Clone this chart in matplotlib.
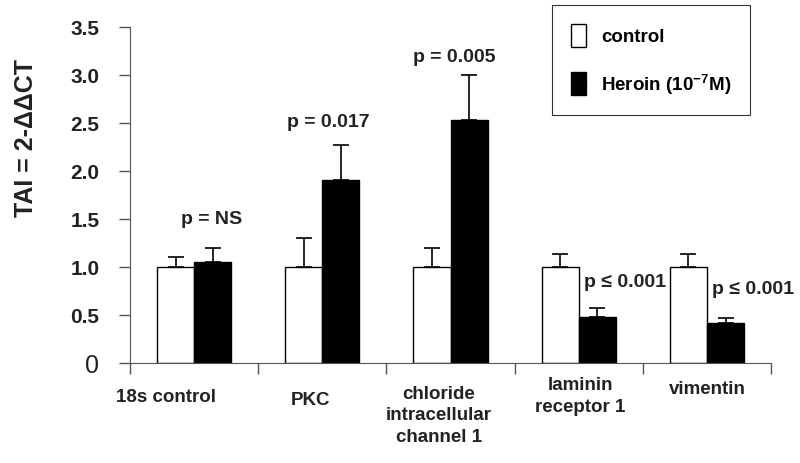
import numpy as np
import matplotlib
matplotlib.use("Agg")
import matplotlib.pyplot as plt
from matplotlib.patches import Patch
import matplotlib.transforms as mtransforms

plt.rcParams['font.family'] = ['Liberation Sans', 'DejaVu Sans']
plt.rcParams['mathtext.fontset'] = 'custom'
plt.rcParams['mathtext.bf'] = 'Liberation Sans:bold'
plt.rcParams['mathtext.rm'] = 'Liberation Sans'

# data
genes = ['18s control', 'PKC', 'chloride\nintracellular\nchannel 1', 'laminin\nreceptor 1', 'vimentin']
control = [1.0, 1.0, 1.0, 1.0, 1.0]
control_err = [0.10, 0.30, 0.20, 0.13, 0.13]
heroin = [1.05, 1.90, 2.53, 0.48, 0.41]
heroin_err = [0.15, 0.37, 0.47, 0.09, 0.06]
p_labels = ['p = NS', 'p = 0.017', 'p = 0.005', 'p \u2264 0.001', 'p \u2264 0.001']

# layout tweaks for the text (not data)
p_dx = [0.14, 0.05, 0.03, 0.36, 0.36]
p_y = [1.50, 2.52, 3.19, 0.85, 0.77]
lab_dx = [-0.22, -0.09, -0.09, 0.01, 0.0]
lab_top = [-0.075, -0.085, -0.065, -0.04, -0.05]

fig = plt.figure(figsize=(8, 4.64), dpi=100)
ax = fig.add_axes([0.1625, 0.216, 0.8013, 0.7237])

x = np.arange(len(genes)) + 0.5
w = 0.29
ax.bar(x - w/2, control, w, color='white', edgecolor='black', linewidth=1.0, zorder=2)
ax.bar(x + w/2, heroin, w, color='black', edgecolor='black', linewidth=1.0, zorder=2)
ax.errorbar(x - w/2, control, yerr=[np.zeros(5), control_err], fmt='none',
            ecolor='black', elinewidth=1.2, capsize=5.5, capthick=1.2, zorder=1)
ax.errorbar(x + w/2, heroin, yerr=[np.zeros(5), heroin_err], fmt='none',
            ecolor='black', elinewidth=1.2, capsize=5.5, capthick=1.2, zorder=1)

for i in range(len(genes)):
    ax.text(x[i] + p_dx[i], p_y[i], p_labels[i], ha='center', va='center',
            fontsize=14, fontweight='bold', color='#222222')

ax.set_xlim(0, 5)
ax.set_ylim(0, 3.5)
ax.spines['top'].set_visible(False)
ax.spines['right'].set_visible(False)
ax.spines['left'].set_color('#555555')
ax.spines['bottom'].set_color('#555555')

ax.set_yticks([0, 0.5, 1.0, 1.5, 2.0, 2.5, 3.0, 3.5])
ax.set_yticklabels(['0', '0.5', '1.0', '1.5', '2.0', '2.5', '3.0', '3.5'],
                   fontsize=15, fontweight='bold', color='#222222')
zero = ax.get_yticklabels()[0]
zero.set_fontweight('normal')
zero.set_fontsize(18)
ax.tick_params(axis='y', direction='out', length=8, width=1, color='#555555', pad=14)
ax.set_xticks(np.arange(0, 6))
ax.set_xticklabels([])
ax.tick_params(axis='x', direction='out', length=8, width=1, color='#555555')

trans = mtransforms.blended_transform_factory(ax.transData, ax.transAxes)
for i, g in enumerate(genes):
    ax.text(x[i] + lab_dx[i], lab_top[i], g, transform=trans, ha='center', va='top',
            fontsize=13.5, fontweight='bold', color='#222222', linespacing=1.35)

fig.text(26/800, 1 - 138/464, 'TAI = 2-\u0394\u0394CT', rotation=90, ha='center', va='center',
         fontsize=18, fontweight='bold', color='#222222')

handles = [Patch(facecolor='white', edgecolor='black'),
           Patch(facecolor='black', edgecolor='black')]
leg = fig.legend(handles, ['control', 'Heroin (10$^{\\mathbf{-7}}$M)'], loc='upper left',
                 bbox_to_anchor=(552/800, 1 - 6/464), prop={'weight': 'bold', 'size': 13.5},
                 frameon=True, fancybox=False, edgecolor='black', handlelength=0.8,
                 handleheight=1.5, labelspacing=1.3, borderpad=1.0, handletextpad=0.8,
                 borderaxespad=0)
leg.get_frame().set_linewidth(0.8)

fig.savefig('out.png', dpi=100)
